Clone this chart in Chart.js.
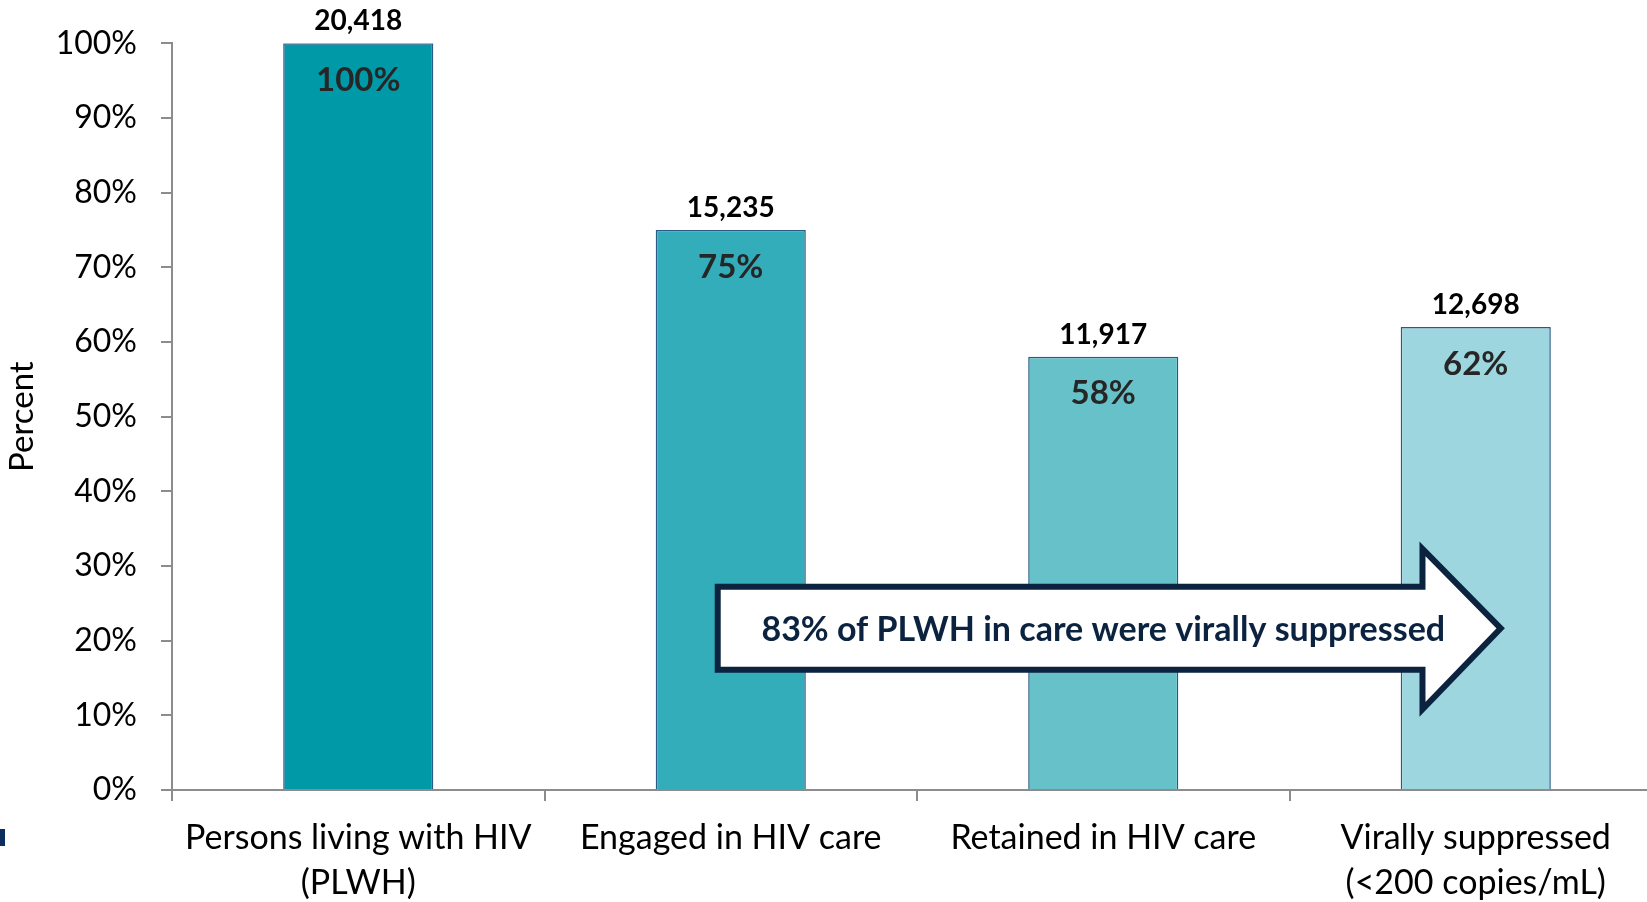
<!DOCTYPE html>
<html>
<head>
<meta charset="utf-8">
<script src="https://cdn.jsdelivr.net/npm/chart.js@4"></script>
<style>
  html, body { margin: 0; padding: 0; background: #fff; overflow: hidden; }
  #wrap { position: relative; width: 1647px; height: 902px; overflow: hidden; }
  #corner { position: absolute; left: 0; top: 829px; width: 5px; height: 17px; background: #0c2d5e; }
</style>
</head>
<body>
<div id="wrap">
  <canvas id="myChart" width="1662" height="902"></canvas>
  <div id="corner"></div>
</div>
<script>
// chart data
const categories = [
  ['Persons living with HIV', '(PLWH)'],
  'Engaged in HIV care',
  'Retained in HIV care',
  ['Virally suppressed', '(<200 copies/mL)']
];
const percentValues = [100, 75, 58, 62];
const personCounts = [20418, 15235, 11917, 12698];
const yTickValues = [0, 10, 20, 30, 40, 50, 60, 70, 80, 90, 100];
const barColors = ['#0099a8', '#33adba', '#66c1c9', '#9dd6de'];
const calloutText = '83% of PLWH in care were virally suppressed';

const FONT = 'Lato, "Open Sans", sans-serif';
const NAVY = '#0c2340';

// count above the bar, percent inside near the top
const barLabels = {
  id: 'barLabels',
  afterDatasetsDraw(chart) {
    const ctx = chart.ctx;
    const meta = chart.getDatasetMeta(0);
    ctx.save();
    ctx.textAlign = 'center';
    ctx.textBaseline = 'middle';
    meta.data.forEach((bar, i) => {
      ctx.fillStyle = '#000';
      ctx.font = 'bold 28px ' + FONT;
      ctx.fillText(personCounts[i].toLocaleString('en-US'), bar.x, bar.y - 22);
      ctx.fillStyle = '#262626';
      ctx.font = 'bold 33px ' + FONT;
      ctx.fillText(percentValues[i] + '%', bar.x, bar.y + 37);
    });
    ctx.restore();
  }
};

// big block arrow, placed in axis units
const callout = {
  id: 'callout',
  afterDraw(chart) {
    const x = chart.scales.x, y = chart.scales.y;
    const ctx = chart.ctx;
    const left = x.getPixelForValue(0.965);
    const neck = x.getPixelForValue(2.857);
    const tip = x.getPixelForValue(3.067);
    const top = y.getPixelForValue(27.2);
    const bottom = y.getPixelForValue(16.1);
    const headTop = y.getPixelForValue(32.3);
    const headBottom = y.getPixelForValue(10.8);
    const mid = (top + bottom) / 2;
    ctx.save();
    ctx.beginPath();
    ctx.moveTo(left, top);
    ctx.lineTo(neck, top);
    ctx.lineTo(neck, headTop);
    ctx.lineTo(tip, mid);
    ctx.lineTo(neck, headBottom);
    ctx.lineTo(neck, bottom);
    ctx.lineTo(left, bottom);
    ctx.closePath();
    ctx.fillStyle = '#fff';
    ctx.fill();
    ctx.lineWidth = 6;
    ctx.lineJoin = 'miter';
    ctx.strokeStyle = NAVY;
    ctx.stroke();
    ctx.fillStyle = NAVY;
    ctx.font = 'bold 34px ' + FONT;
    ctx.textAlign = 'center';
    ctx.textBaseline = 'middle';
    ctx.fillText(calloutText, x.getPixelForValue(2.0), mid + 2);
    ctx.restore();
  }
};

const ctx = document.getElementById('myChart');

new Chart(ctx, {
  type: 'bar',
  data: {
    labels: categories,
    datasets: [{
      data: percentValues,
      backgroundColor: barColors,
      borderColor: '#2a5a88',
      borderWidth: 1.5,
      barPercentage: 0.403,
      categoryPercentage: 1
    }]
  },
  options: {
    responsive: false,
    animation: false,
    devicePixelRatio: 1,
    layout: { padding: { top: 40, left: 0, right: 0, bottom: 0 } },
    scales: {
      x: {
        afterFit(scale) { scale.height = 112; },
        grid: {
          display: true,
          drawOnChartArea: false,
          drawTicks: true,
          tickLength: 11,
          color: '#8c8c8c',
          lineWidth: 2,
          offset: true
        },
        border: { color: '#8c8c8c', width: 2 },
        ticks: {
          color: '#000',
          padding: 15,
          maxRotation: 0,
          autoSkip: false,
          font: { family: FONT, size: 34, lineHeight: 1.32 }
        }
      },
      y: {
        min: 0,
        max: 100,
        afterFit(scale) { scale.width = 172; },
        afterBuildTicks(scale) { scale.ticks = yTickValues.map(v => ({ value: v })); },
        grid: {
          display: true,
          drawOnChartArea: false,
          drawTicks: true,
          tickLength: 11,
          color: '#8c8c8c',
          lineWidth: 2
        },
        border: { color: '#8c8c8c', width: 2 },
        ticks: {
          color: '#000',
          padding: 24,
          font: { family: FONT, size: 32 },
          callback: v => v + '%'
        },
        title: {
          display: true,
          text: 'Percent',
          color: '#000',
          padding: { top: 3, bottom: 0 },
          font: { family: FONT, size: 33 }
        }
      }
    },
    plugins: {
      legend: { display: false },
      tooltip: { enabled: false }
    }
  },
  plugins: [barLabels, callout]
});
</script>
</body>
</html>
